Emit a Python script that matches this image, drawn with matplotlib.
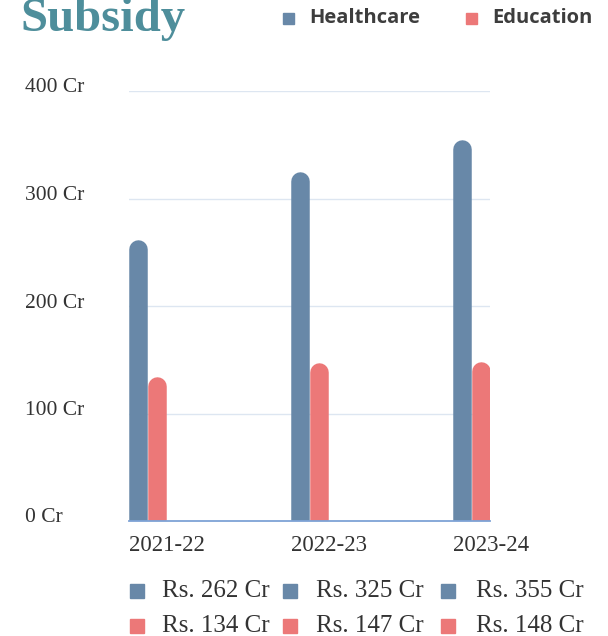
import numpy as np
import matplotlib
matplotlib.use('Agg')
import matplotlib.pyplot as plt
from matplotlib import transforms
from matplotlib.patches import Rectangle

# data
years = ['2021-22', '2022-23', '2023-24']
healthcare = [262, 325, 355]
education = [134, 147, 148]
yticks = [0, 100, 200, 300, 400]
ytick_labels = ['0 Cr', '100 Cr', '200 Cr', '300 Cr', '400 Cr']
series_names = ['Healthcare', 'Education']

c_health = '#6888a8'
c_edu = '#ec7878'
serif = ['Liberation Serif', 'DejaVu Serif']

W, H = 608, 636
fig = plt.figure(figsize=(W / 100, H / 100), dpi=100)

# axes box in pixels: x 129..490, y 91..521 (top-down)
ax = fig.add_axes([129 / W, (H - 521) / H, (490 - 129) / W, (521 - 91) / H])

x = np.arange(len(years))
bw = 0.114  # one bar width in data units
ax.set_xlim(-bw, len(years) - 1 + bw)
ax.set_ylim(0, 400)

# px per data unit on y, used to trim the rounded cap
px_per_unit = (521 - 91) / 400
lw_pt = 18.5 * 72 / 100
r = 9.25 / px_per_unit

for i in range(len(years)):
    for val, off, col in [(healthcare[i], -bw / 2, c_health), (education[i], bw / 2, c_edu)]:
        ax.plot([x[i] + off, x[i] + off], [-20, val - r], color=col, lw=lw_pt,
                solid_capstyle='round', zorder=3)

# grid
for t in yticks[1:]:
    ax.axhline(t, color='#dde6f1', lw=1, zorder=1)
ax.axhline(0, color='#7ea3d6', lw=1.3, zorder=4, clip_on=False)

for s in ax.spines.values():
    s.set_visible(False)
ax.set_yticks([])
ax.set_xticks(x - bw)
ax.set_xticklabels(years, ha='left', fontsize=16.5, family=serif, color='#333333')
ax.tick_params(axis='x', length=0, pad=10)

# y labels at the left edge of the figure
trans = transforms.blended_transform_factory(fig.transFigure, ax.transData)
trans = transforms.offset_copy(trans, fig=fig, y=3, units='dots')
for t, lab in zip(yticks, ytick_labels):
    ax.text(25 / W, t, lab, transform=trans, ha='left', va='center',
            fontsize=15.5, family=serif, color='#333333', clip_on=False)

# title (cut off at the top in the reference)
fig.text(20 / W, 1 - 31 / H, 'Subsidy', fontsize=35, fontweight='bold',
         family=serif, color='#4e8e9b', ha='left', va='baseline')

# top legend
for name, col, sx in [(series_names[0], c_health, 283), (series_names[1], c_edu, 466)]:
    fig.patches.append(Rectangle((sx / W, 1 - 24 / H), 11 / W, 11 / H,
                                 transform=fig.transFigure, color=col))
    fig.text((sx + 26) / W, 1 - 18 / H, name, fontsize=14.5, fontweight='bold',
             family=['Open Sans', 'DejaVu Sans'], color='#3d3d3d', ha='left', va='center')

# bottom value legend
sq_x = [130, 283, 441]
txt_x = [162, 316, 476]
for row, (vals, col) in enumerate([(healthcare, c_health), (education, c_edu)]):
    yc = 591 + row * 35
    for j, v in enumerate(vals):
        fig.patches.append(Rectangle((sq_x[j] / W, 1 - (yc + 7) / H), 13.5 / W, 14 / H,
                                     transform=fig.transFigure, color=col))
        fig.text(txt_x[j] / W, 1 - yc / H, 'Rs. %d Cr' % v, fontsize=18,
                 family=serif, color='#333333', ha='left', va='center')

fig.savefig('out.png', dpi=100)
